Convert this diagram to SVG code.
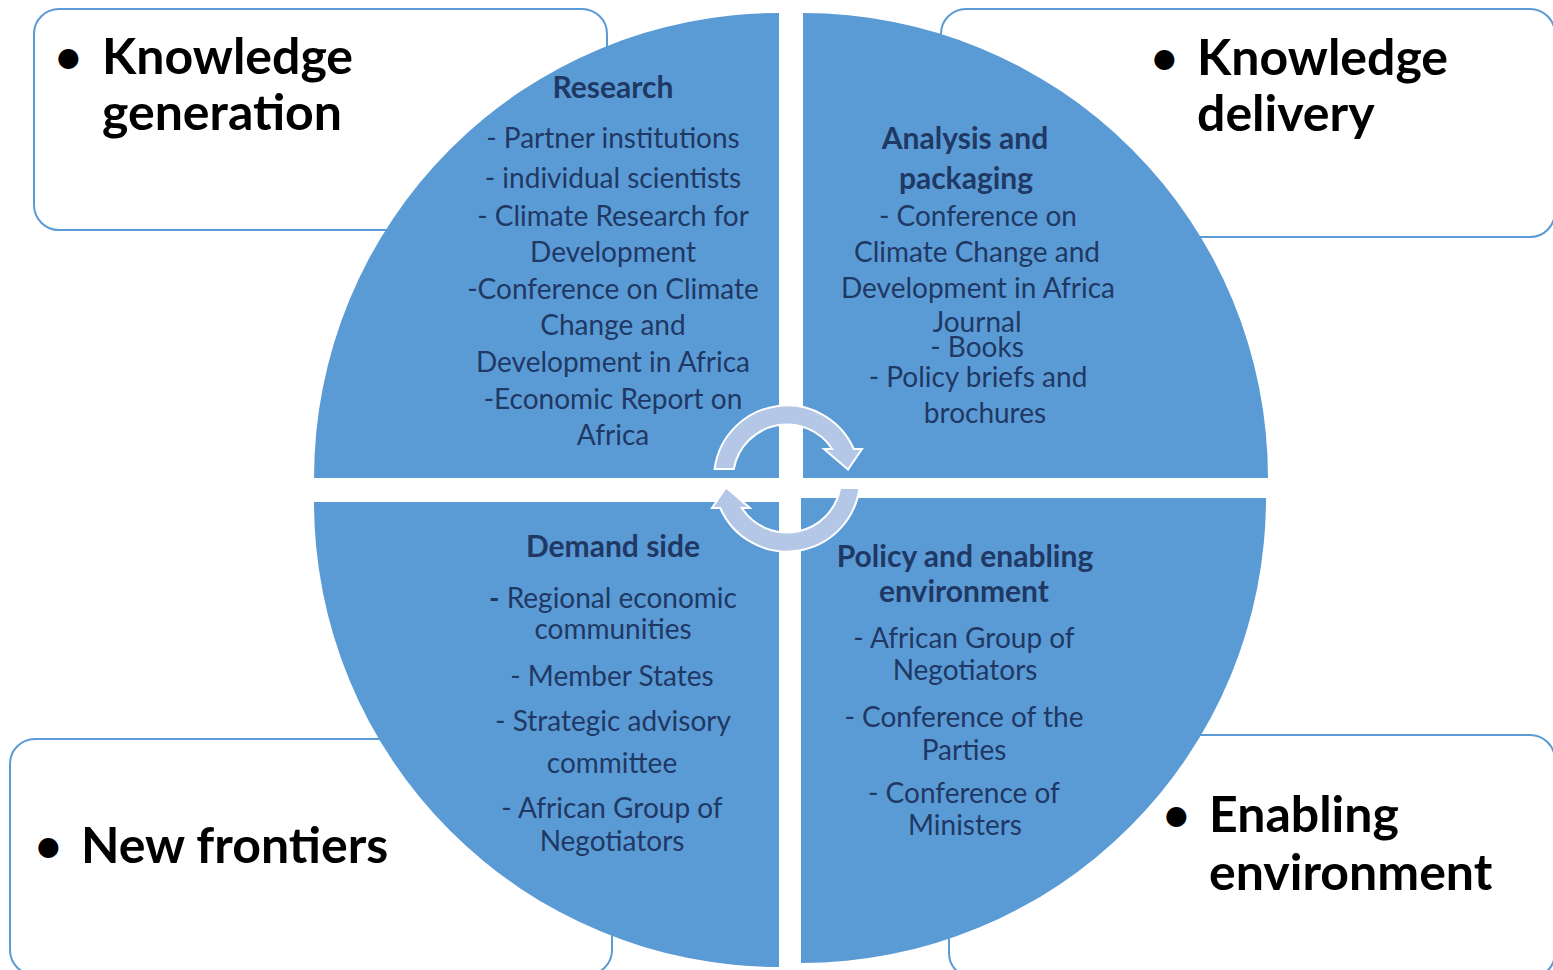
<svg xmlns="http://www.w3.org/2000/svg" width="1553" height="970" viewBox="0 0 1553 970">
<style>
.box{fill:#fff;stroke:#5B9BD5;stroke-width:2}
.q{fill:#5B9BD5}
.t{font-family:Lato,"Liberation Sans",sans-serif;font-size:28px;fill:#1F3864;text-anchor:middle}
.h{font-weight:bold;font-size:30px}
.big{font-family:Lato,"Liberation Sans",sans-serif;font-weight:bold;font-size:50px;fill:#000}
.bul{font-family:Lato,"Liberation Sans",sans-serif;font-weight:bold;font-size:46px;fill:#000}
.arrow{fill:#B4C7E7;stroke:#fff;stroke-width:2}
</style>
<defs>
<path id="arc" d="M714.6,469 A73,73 0 0 1 853.8,449 L862,449 L848,469.5 L824,449 L832.2,449 A54,54 0 0 0 733.8,469 Z"/>
</defs>
<g id="box-knowledge-generation">
<rect class="box" x="34" y="9" width="573" height="221" rx="25"/>
<text class="bul" x="55" y="73">•</text>
<text class="big" x="102" y="74">Knowledge</text>
<text class="big" x="102" y="130">generation</text>
</g>
<g id="box-knowledge-delivery">
<rect class="box" x="941" y="9" width="614" height="228" rx="25"/>
<text class="bul" x="1151" y="74">•</text>
<text class="big" x="1197" y="75">Knowledge</text>
<text class="big" x="1197" y="131">delivery</text>
</g>
<g id="box-new-frontiers">
<rect class="box" x="10" y="739" width="602" height="236" rx="25"/>
<text class="bul" x="35" y="862">•</text>
<text class="big" x="81" y="863">New frontiers</text>
</g>
<g id="box-enabling-environment">
<rect class="box" x="949" y="735" width="606" height="243" rx="25"/>
<text class="bul" x="1163" y="831">•</text>
<text class="big" x="1209" y="832">Enabling</text>
<text class="big" x="1209" y="890">environment</text>
</g>
<g id="quadrant-research">
<path class="q" d="M779,478 L314,478 A465,465 0 0 1 779,13 Z"/>
<text class="t h" x="613" y="98">Research</text>
<text class="t" x="613" y="148">- Partner institutions</text>
<text class="t" x="613" y="188">- individual scientists</text>
<text class="t" x="613" y="226">- Climate Research for</text>
<text class="t" x="613" y="262">Development</text>
<text class="t" x="613" y="299">-Conference on Climate</text>
<text class="t" x="613" y="335">Change and</text>
<text class="t" x="613" y="372">Development in Africa</text>
<text class="t" x="613" y="409">-Economic Report on</text>
<text class="t" x="613" y="445">Africa</text>
</g>
<g id="quadrant-analysis">
<path class="q" d="M803,478 L803,13 A465,465 0 0 1 1268,478 Z"/>
<text class="t h" x="965" y="149">Analysis and</text>
<text class="t h" x="966" y="189">packaging</text>
<text class="t" x="978" y="226">- Conference on</text>
<text class="t" x="977" y="262">Climate Change and</text>
<text class="t" x="978" y="298">Development in Africa</text>
<text class="t" x="977" y="332">Journal</text>
<text class="t" x="977" y="357">- Books</text>
<text class="t" x="978" y="387">- Policy briefs and</text>
<text class="t" x="985" y="423">brochures</text>
</g>
<g id="quadrant-demand">
<path class="q" d="M779,502 L779,967 A465,465 0 0 1 314,502 Z"/>
<text class="t h" x="613" y="557">Demand side</text>
<text class="t" x="613" y="608"><tspan font-weight="bold">-</tspan> Regional economic</text>
<text class="t" x="613" y="639">communities</text>
<text class="t" x="612" y="686">- Member States</text>
<text class="t" x="613" y="731">- Strategic advisory</text>
<text class="t" x="612" y="773">committee</text>
<text class="t" x="612" y="818">- African Group of</text>
<text class="t" x="612" y="851">Negotiators</text>
</g>
<g id="quadrant-policy">
<path class="q" d="M801,498 L1266,498 A465,465 0 0 1 801,963 Z"/>
<text class="t h" x="965" y="567">Policy and enabling</text>
<text class="t h" x="964" y="602">environment</text>
<text class="t" x="964" y="648">- African Group of</text>
<text class="t" x="965" y="680">Negotiators</text>
<text class="t" x="964" y="727">- Conference of the</text>
<text class="t" x="964" y="760">Parties</text>
<text class="t" x="964" y="803">- Conference of</text>
<text class="t" x="965" y="835">Ministers</text>
</g>
<g id="connectors">
<use href="#arc" class="arrow"/>
<use href="#arc" class="arrow" transform="rotate(180 787 478.5)"/>
</g>
</svg>
